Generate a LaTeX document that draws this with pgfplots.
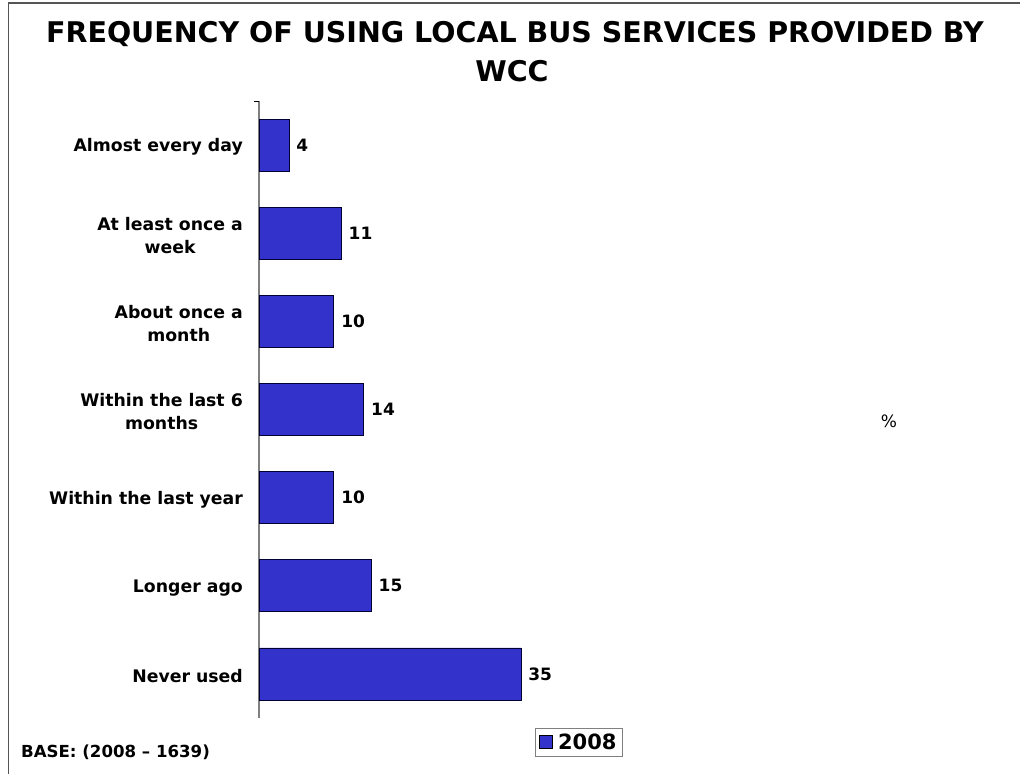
\documentclass[border=0pt]{standalone}
\usepackage{fontspec}
\setmainfont{DejaVu Sans}
\usepackage{pgfplots}
\pgfplotsset{compat=1.18}

\definecolor{barblue}{HTML}{3333CC}
\definecolor{framegray}{HTML}{555555}

\begin{document}
\begin{tikzpicture}[x=1pt,y=1pt]
\useasboundingbox (0,0) rectangle (1020,774);
% frame (top and left only)
\draw[framegray, line width=1.5pt] (8.5,0) -- (8.5,771) -- (1020,771);

% title
\node[font=\bfseries\fontsize{28.5}{32}\selectfont, anchor=base] at (515,731)
  {FREQUENCY OF USING LOCAL BUS SERVICES PROVIDED BY};
\node[font=\bfseries\fontsize{28.5}{32}\selectfont, anchor=base] at (512,692) {WCC};

\begin{axis}[
    at={(259pt,56pt)}, anchor=south west,
    scale only axis,
    width=598.9pt, height=617pt,
    xbar, bar width=52pt,
    xmin=0, xmax=80,
    ymin=-0.5, ymax=6.5,
    y dir=reverse,
    axis x line=none,
    axis y line*=left,
    y axis line style={draw=gray, line width=1.2pt},
    ytick={0,...,6},
    yticklabels={Almost every day,{At least once a\\week},{About once a\\month},
      {Within the last 6\\months},Within the last year,Longer ago,Never used},
    major tick length=0pt,
    yticklabel style={font=\bfseries\fontsize{17.3}{23}\selectfont, align=center,
      anchor=east, inner sep=0pt, xshift=-16pt, yshift=-2pt},
    extra y ticks={-0.5},
    extra y tick labels={},
    extra y tick style={major tick length=5pt, tick align=outside,
      tick style={draw=black, line width=1pt}},
    /pgf/number format/assume math mode=true,
    nodes near coords,
    nodes near coords style={font=\bfseries\fontsize{17}{20}\selectfont,
      anchor=west, inner sep=0pt, xshift=7pt, black},
    clip=false,
    legend style={at={(0.5343,-0.039)}, anchor=center, draw=gray,
      font=\bfseries\fontsize{21}{24}\selectfont, inner xsep=4pt, inner ysep=3.5pt},
    legend image code/.code={\draw[fill=barblue, draw=black, line width=0.6pt]
      (0pt,-6.5pt) rectangle (13pt,6.5pt); \path (16pt,0pt);},
]
\addplot[fill=barblue, draw=black!80!blue, line width=0.8pt]
  coordinates {(4,0) (11,1) (10,2) (14,3) (10,4) (15,5) (35,6)};
\legend{2008}
\end{axis}

\node[font=\fontsize{17}{20}\selectfont] at (889,353) {\%};
\node[font=\bfseries\fontsize{16.6}{20}\selectfont, anchor=base west, inner sep=0pt]
  at (21,17) {BASE: (2008 -- 1639)};
\end{tikzpicture}
\end{document}
